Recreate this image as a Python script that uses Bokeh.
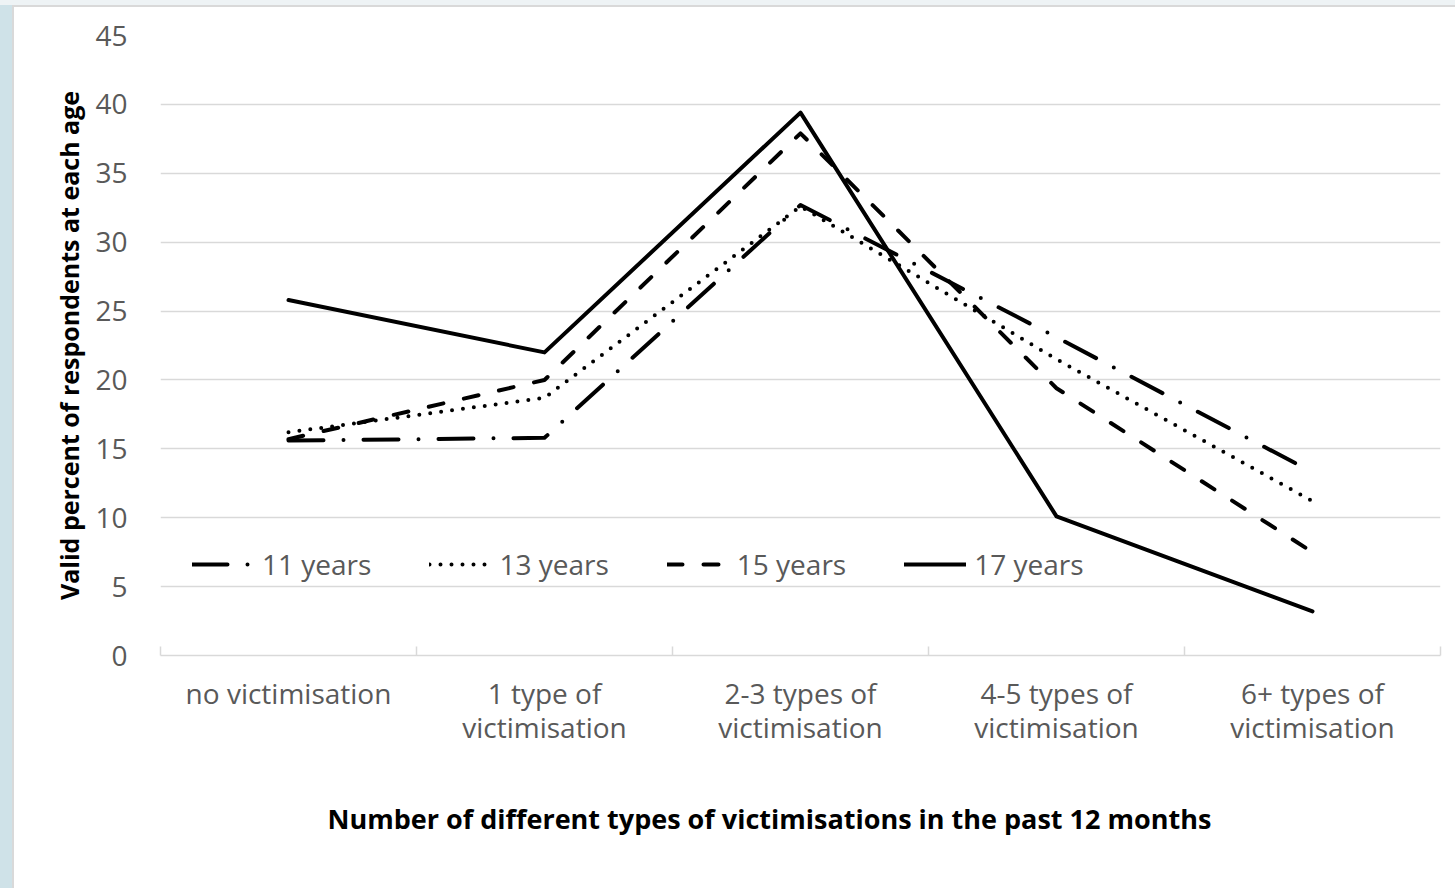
from bokeh.plotting import figure
from bokeh.models import (FactorRange, Range1d, LinearAxis, FixedTicker,
                          Legend, LegendItem, Title, Spacer)
from bokeh.layouts import row, column
from bokeh.embed import file_html
from bokeh.resources import INLINE

categories = ["no victimisation", "1 type of victimisation", "2-3 types of victimisation",
              "4-5 types of victimisation", "6+ types of victimisation"]
label_line1 = ["no victimisation", "1 type of", "2-3 types of", "4-5 types of", "6+ types of"]
label_line2 = [None, "victimisation", "victimisation", "victimisation", "victimisation"]
years_11 = [15.6, 15.8, 32.7, 23.1, 13.3]
years_13 = [16.2, 18.7, 32.6, 21.5, 11.2]
years_15 = [15.7, 20.0, 37.9, 19.4, 7.5]
years_17 = [25.8, 22.0, 39.4, 10.1, 3.2]
series_names = ["11 years", "13 years", "15 years", "17 years"]
y_ticks = [0, 5, 10, 15, 20, 25, 30, 35, 40, 45]
x_title = "Number of different types of victimisations in the past 12 months"
y_title = "Valid percent of respondents at each age"

FONT = "Open Sans"
GRID = "#d9d9d9"
TXT = "#595959"

p = figure(x_range=FactorRange(factors=categories, range_padding=0), y_range=Range1d(0, 45),
           width=1441, height=881, output_backend="svg", toolbar_location=None,
           x_axis_location=None, min_border_left=146, min_border_right=15,
           min_border_top=28, min_border_bottom=233, outline_line_color=None)
p.background_fill_color = "white"
p.border_fill_color = "white"

p.yaxis.ticker = FixedTicker(ticks=y_ticks)
p.yaxis.axis_line_color = None
p.yaxis.major_tick_line_color = None
p.yaxis.minor_tick_line_color = None
p.yaxis.major_label_standoff = 27
p.yaxis.major_label_text_font = FONT
p.yaxis.major_label_text_font_size = "28px"
p.yaxis.major_label_text_color = TXT
p.yaxis.axis_label = y_title
p.yaxis.axis_label_text_font = FONT
p.yaxis.axis_label_text_font_size = "25px"
p.yaxis.axis_label_text_font_style = "bold"
p.yaxis.axis_label_text_color = "black"
p.yaxis.axis_label_standoff = 6

p.ygrid.ticker = FixedTicker(ticks=y_ticks)
p.ygrid.grid_line_color = GRID
p.ygrid.grid_line_width = 1.5
p.xgrid.grid_line_color = None

# factor-range synthetic coordinates: boundaries at 0..n, centres at i + 0.5
n = len(categories)
bounds = list(range(n + 1))
tax = LinearAxis(ticker=FixedTicker(ticks=bounds),
                 major_label_overrides={b: "" for b in bounds},
                 axis_line_color=GRID, axis_line_width=1.5, major_tick_in=9, major_tick_out=0,
                 major_tick_line_color=GRID, major_tick_line_width=1.5,
                 minor_tick_line_color=None, major_label_standoff=0,
                 major_label_text_font_size="1px")
p.add_layout(tax, "below")

for lines, standoff in ((label_line1, 12), (label_line2, -13)):
    centres = [i + 0.5 for i, t in enumerate(lines) if t]
    texts = [t for t in lines if t]
    lax = LinearAxis(ticker=FixedTicker(ticks=centres),
                     major_label_overrides=dict(zip(centres, texts)),
                     axis_line_color=None, major_tick_line_color=None,
                     minor_tick_line_color=None, major_label_standoff=standoff,
                     major_label_text_font=FONT, major_label_text_font_size="28px",
                     major_label_text_color=TXT)
    p.add_layout(lax, "below")

# empty spacing axis to lower the x-axis title slightly
mid = n / 2
gap = LinearAxis(ticker=FixedTicker(ticks=[mid]), major_label_overrides={mid: ""},
                 axis_line_color=None, major_tick_line_color=None, minor_tick_line_color=None,
                 major_label_standoff=12, major_label_text_font_size="1px")
p.add_layout(gap, "below")

p.add_layout(Title(text=x_title, align="left", offset=167, standoff=86, text_font=FONT,
                   text_font_size="27px", text_font_style="bold", text_color="black"), "below")

styles = [
    dict(line_dash="35 20 0 20"),
    dict(line_dash="0 11"),
    dict(line_dash="15 21"),
    dict(line_dash="solid"),
]
items = []
for name, vals, st in zip(series_names, [years_11, years_13, years_15, years_17], styles):
    r = p.line(categories, vals, line_color="black", line_width=4, line_cap="round",
               line_join="round", **st)
    items.append(LegendItem(label=name, renderers=[r]))

legend = Legend(items=items, orientation="horizontal", location=(32, 72), glyph_width=62,
                glyph_height=20, label_standoff=8, spacing=58, padding=0, margin=0,
                border_line_color=None, background_fill_alpha=0, label_text_font=FONT,
                label_text_font_size="28px", label_text_color=TXT, label_height=20)
p.add_layout(legend)

top = Spacer(width=1455, height=5, styles={"background-color": "#eef3f5"})
left_strip = Spacer(width=12, height=883, styles={"background-color": "#cfe2e8"})
left_line = Spacer(width=2, height=883, styles={"background-color": GRID})
top_line = Spacer(width=1441, height=2, styles={"background-color": GRID})
root = column(top, row(left_strip, left_line, column(top_line, p)))

open("out.html", "w").write(file_html(root, INLINE))
